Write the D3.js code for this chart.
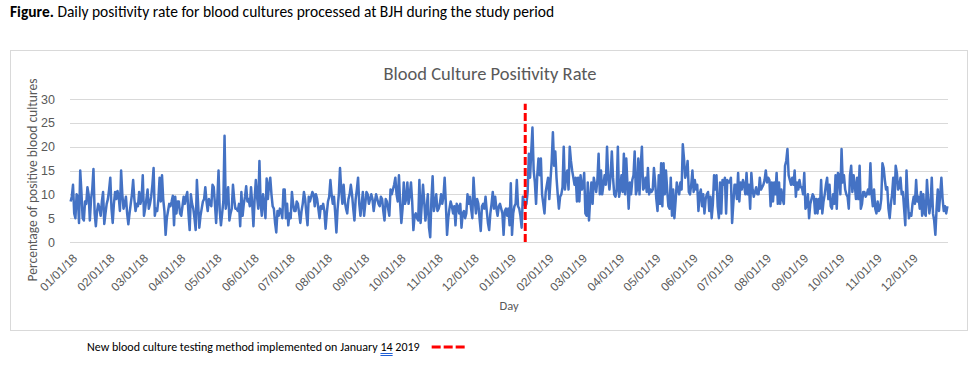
<!DOCTYPE html>
<html>
<head>
<meta charset="utf-8">
<script src="https://cdn.jsdelivr.net/npm/d3@7"></script>
<style>
  body { margin: 0; background: #fff; }
  svg { display: block; font-family: Carlito, Calibri, Lato, sans-serif; }
</style>
</head>
<body>
<div id="chartMain"></div>
<script>
// Daily positivity rate (%), one array per month, Jan 2018 - Dec 2019
const jan18 = [8.5, 9.5, 12, 6, 5, 10, 9.5, 4, 15, 10.5, 5, 4.5, 8.5, 8, 11.5, 10, 4.5, 9, 11, 15.3, 6, 3.3, 6.5, 8, 7, 5.5, 8.5, 10.5, 3.8, 6, 8];
const feb18 = [9, 11, 13.5, 7, 4, 8, 10.5, 9, 10.7, 9.5, 6.5, 15, 10, 7, 8, 9.5, 6, 3.7, 6, 8, 10, 13, 9, 6.5, 8, 7.5, 10.5, 8];
const mar18 = [9, 14, 5.5, 7, 9, 11, 7, 8, 9.5, 12, 15.5, 5.5, 7, 6.5, 9, 13.5, 8.5, 14, 9, 6.5, 1.5, 5, 6.5, 8, 7.5, 8.5, 9.7, 3.5, 9.5, 6, 8.5];
const apr18 = [8.5, 6, 5.5, 7.5, 9.5, 8, 9.5, 10.5, 6, 2.5, 10, 8, 7, 5, 2.5, 13, 8, 3, 5.5, 7, 8.5, 9, 11.5, 8.5, 6.5, 9, 8, 7.5, 12, 11.5];
const may18 = [8, 4, 9, 15, 6.5, 3.5, 6, 8.5, 22.3, 7, 9, 11.5, 4.5, 6, 7, 12, 9, 7, 7, 6.5, 8, 3.3, 10.5, 5.5, 8, 9.5, 11.7, 8.5, 9, 7.5, 11.5];
const jun18 = [8, 3.3, 9, 13, 9.5, 7, 17, 8, 5.5, 10, 8, 5, 13.3, 9, 12, 13.5, 10, 7.5, 7, 4, 2, 6.5, 5.5, 7, 6.5, 5, 11, 11, 5, 8];
const jul18 = [3.5, 6, 5, 10.5, 8, 6.5, 6.5, 8.5, 8, 6, 4, 6.5, 8, 10.5, 9, 6, 3.5, 9.5, 8.5, 9.5, 10.5, 10, 7.5, 10, 9, 7, 5, 7.5, 7, 8, 6.5];
const aug18 = [2.8, 6, 8.5, 9.5, 13, 10, 8, 9.5, 6, 2, 7, 10, 15.5, 11, 8, 12, 8.5, 7, 6, 9, 10, 12, 10, 7, 4.5, 9, 11, 13.5, 8, 5.5, 8];
const sep18 = [10.5, 5.5, 8, 10.5, 10, 8, 9, 10, 9, 6.5, 8.5, 10, 9, 8, 7.5, 9.5, 9, 6.5, 4.5, 9, 8.5, 7, 5.5, 11, 10, 11, 12, 13.5, 10, 8.5];
const oct18 = [14, 8, 4, 7, 12.5, 8, 9, 12.5, 8, 10, 12.5, 8.5, 2.5, 5.5, 6, 5, 4.5, 13, 4, 8, 12, 8.5, 4.5, 7, 10, 3, 1, 9, 13.8, 6.5, 8];
const nov18 = [10, 6.5, 7, 8, 10, 8, 9.5, 13.5, 8, 1.5, 5, 7, 8.5, 7.5, 6, 7.5, 3.5, 8, 7.5, 6, 8, 3, 6, 6.5, 5, 6, 10, 8, 9.5, 7];
const dec18 = [5, 13.5, 9, 6, 9, 8, 5, 2.3, 7.5, 8, 7, 9.5, 6.5, 4, 2.5, 6, 8, 10.5, 7, 9.5, 7, 5.5, 7.5, 8, 7, 6, 1.5, 6.5, 7, 5.5, 7];
const jan19 = [3.5, 12.3, 1.5, 6, 7.5, 8, 13, 7.5, 7, 5.5, 3, 9.5, 8.5, 7.5, 8, 10.5, 18.5, 13.5, 19, 24, 15, 12.5, 8, 14, 17.5, 14, 17.5, 10, 8, 6, 10.5];
const feb19 = [12, 13.5, 9, 13, 17, 23, 16, 19, 13.5, 10, 7, 9.5, 10, 11.5, 20, 11, 14, 15, 11, 20, 17, 15, 13.5, 12, 13.5, 8.5, 13.5, 8.5];
const mar19 = [14, 11, 11.5, 14.5, 6, 5.5, 12.5, 4.5, 9, 12.5, 8, 13.5, 12, 10.5, 13, 18.5, 10, 15, 10, 12, 14, 12, 20, 13.5, 11, 14, 19, 13.5, 10, 9.5, 11];
const apr19 = [20, 9.5, 11, 14, 10.5, 18.5, 10, 17.5, 12, 7, 12.5, 10, 13, 14, 19, 10, 11, 17.5, 10, 16, 20, 11, 11.5, 13.5, 10.5, 15.5, 10, 11, 10.5, 11];
const may19 = [15.5, 12.5, 9, 6.5, 14, 8, 16.5, 7.5, 16.5, 10, 15, 11, 7.5, 7, 13.5, 5.5, 11, 5, 8.5, 12.5, 11, 10, 12.5, 11, 20.5, 17.5, 13.5, 14.5, 17, 10.5, 10];
const jun19 = [12, 15, 10.5, 13, 11, 12, 6.5, 10, 11, 7.5, 10, 6, 9, 10, 10.5, 6.5, 9.5, 5, 8, 14, 11, 14, 7.5, 5, 12.5, 6, 13, 12, 13.5, 6];
const jul19 = [13, 12.5, 12.5, 13.5, 4, 8, 12, 12, 9, 14.5, 8.5, 12.5, 11, 13, 12, 10, 14.5, 10, 12, 7, 14.5, 11, 9.5, 10.5, 11.5, 10, 10, 13.5, 11, 11.5, 12];
const aug19 = [13, 15, 12.5, 13.5, 13, 7.5, 12.5, 8.5, 12.5, 10, 14.5, 8, 12.5, 8, 11, 9, 8, 16, 17, 19.5, 14, 13, 12, 13.5, 12, 15, 9.5, 12.5, 11, 13, 11.5];
const sep19 = [11.5, 10, 14.5, 7, 7.5, 10, 5, 8, 9, 10, 9.5, 6, 9, 6, 9, 7, 13, 6, 8.5, 10, 12, 13.5, 9, 12, 7.5, 7, 10, 8, 14, 7];
const oct19 = [14.5, 14, 10, 19.5, 12.5, 14, 11, 10, 9.5, 7, 14, 16, 10.5, 14, 12, 9, 13.5, 9, 16, 7, 8, 10.5, 10.5, 9.5, 10, 11, 10, 16.5, 10, 7.5, 11];
const nov19 = [7, 6, 8.5, 6.5, 7, 9, 16.5, 15.5, 13, 11, 11.5, 7, 5, 8, 10, 13.5, 8, 16, 14.5, 11, 11.5, 13.5, 10, 10.5, 7, 3.5, 15, 9, 5, 6];
const dec19 = [5.5, 8, 9.5, 8, 13, 8.5, 9.5, 7, 10.5, 5.5, 10, 6, 5.5, 13, 9, 6, 8, 13.5, 6, 4.5, 1.5, 7, 11, 6.5, 10, 13.5, 9, 6.5, 7.5, 6, 7.5];

const months = [jan18, feb18, mar18, apr18, may18, jun18, jul18, aug18, sep18, oct18, nov18, dec18,
                jan19, feb19, mar19, apr19, may19, jun19, jul19, aug19, sep19, oct19, nov19, dec19];

const yTicks = [0, 5, 10, 15, 20, 25, 30];
const changeDate = new Date(2019, 0, 14);
const changeLine = [0, 29];

const chartTitle = 'Blood Culture Positivity Rate';
const yTitle = 'Percentage of positive blood cultures';
const xTitle = 'Day';
const legendText = ['New blood culture testing method implemented on January ', '14', ' 2019'];

// one point per day
const data = months.flatMap((arr, m) => arr.map((v, i) => ({ date: new Date(2018, m, i + 1), value: v })));

const W = 969, H = 371;
const margin = { top: 99, right: 21, bottom: 129, left: 70 };

const svg = d3.select('#chartMain')
    .append('svg')
    .attr('width', W)
    .attr('height', H);

// figure caption
const cap = svg.append('text')
    .attr('x', 10)
    .attr('y', 17)
    .attr('font-size', 15.5)
    .attr('fill', '#000');
cap.append('tspan').attr('font-weight', 'bold').text('Figure.');
cap.append('tspan').text(' Daily positivity rate for blood cultures processed at BJH during the study period');

// chart frame
svg.append('rect')
    .attr('x', 10.5)
    .attr('y', 50.5)
    .attr('width', 957)
    .attr('height', 280)
    .attr('fill', 'none')
    .attr('stroke', '#d9d9d9');

const x = d3.scaleTime()
    .domain([new Date(2017, 11, 31, 12), new Date(2019, 11, 31, 12)])
    .range([margin.left, W - margin.right]);

const y = d3.scaleLinear()
    .domain([0, 30])
    .range([H - margin.bottom, margin.top]);

// title
svg.append('text')
    .attr('x', 490)
    .attr('y', 80)
    .attr('text-anchor', 'middle')
    .attr('font-size', 18.5)
    .attr('fill', '#595959')
    .text(chartTitle);

// gridlines
svg.append('g')
    .selectAll('line')
    .data(yTicks)
    .join('line')
    .attr('x1', margin.left)
    .attr('x2', W - margin.right)
    .attr('y1', d => Math.round(y(d)) + 0.5)
    .attr('y2', d => Math.round(y(d)) + 0.5)
    .attr('stroke', '#d9d9d9');

// y axis labels
const yAxis = svg.append('g')
    .attr('transform', `translate(${margin.left - 15},0)`)
    .call(d3.axisLeft(y).tickValues(yTicks).tickSize(0).tickPadding(0));
yAxis.select('.domain').remove();
yAxis.selectAll('text')
    .attr('font-family', null)
    .attr('font-size', 12.5)
    .attr('fill', '#595959');

// x axis labels
const monthTicks = d3.timeMonth.range(new Date(2018, 0, 1), new Date(2020, 0, 1));
const xAxis = svg.append('g')
    .attr('transform', `translate(0,${H - margin.bottom})`)
    .call(d3.axisBottom(x).tickValues(monthTicks).tickSize(0).tickFormat(d3.timeFormat('%m/%d/%y')));
xAxis.select('.domain').remove();
xAxis.selectAll('text')
    .attr('font-family', null)
    .attr('font-size', 12)
    .attr('fill', '#595959')
    .attr('text-anchor', 'end')
    .attr('y', 0)
    .attr('dy', '0.35em')
    .attr('transform', 'translate(4,14) rotate(-45)');

// axis titles
svg.append('text')
    .attr('transform', 'translate(37,180) rotate(-90)')
    .attr('text-anchor', 'middle')
    .attr('font-size', 13.5)
    .attr('fill', '#595959')
    .text(yTitle);

svg.append('text')
    .attr('x', 509)
    .attr('y', 310)
    .attr('text-anchor', 'middle')
    .attr('font-size', 12.5)
    .attr('fill', '#595959')
    .text(xTitle);

// series line
const line = d3.line()
    .x(d => x(d.date))
    .y(d => y(d.value));

svg.append('path')
    .datum(data)
    .attr('fill', 'none')
    .attr('stroke', '#4472c4')
    .attr('stroke-width', 2.5)
    .attr('stroke-linejoin', 'round')
    .attr('d', line);

// implementation marker
svg.append('path')
    .datum(changeLine)
    .attr('fill', 'none')
    .attr('stroke', '#ff0000')
    .attr('stroke-width', 3)
    .attr('stroke-dasharray', '8,3')
    .attr('d', d3.line().x(() => x(changeDate)).y(d => y(d)));

// legend
const leg = svg.append('text')
    .attr('x', 87)
    .attr('y', 351)
    .attr('font-size', 12)
    .attr('fill', '#000');
leg.selectAll('tspan')
    .data(legendText)
    .join('tspan')
    .text(d => d);

const legNode = leg.node();
const pre = legendText[0].length;
const ulStart = legNode.getStartPositionOfChar(pre).x;
const ulEnd = legNode.getEndPositionOfChar(pre + 1).x;
[353.5, 355.5].forEach(yy => {
    svg.append('line')
        .attr('x1', ulStart).attr('x2', ulEnd)
        .attr('y1', yy).attr('y2', yy)
        .attr('stroke', '#1f5fd6')
        .attr('stroke-width', 1);
});

const legEnd = legNode.getComputedTextLength() + 87;
svg.append('line')
    .attr('x1', legEnd + 12)
    .attr('x2', legEnd + 48)
    .attr('y1', 347)
    .attr('y2', 347)
    .attr('stroke', '#ff0000')
    .attr('stroke-width', 3)
    .attr('stroke-dasharray', '9,3');
</script>
</body>
</html>
